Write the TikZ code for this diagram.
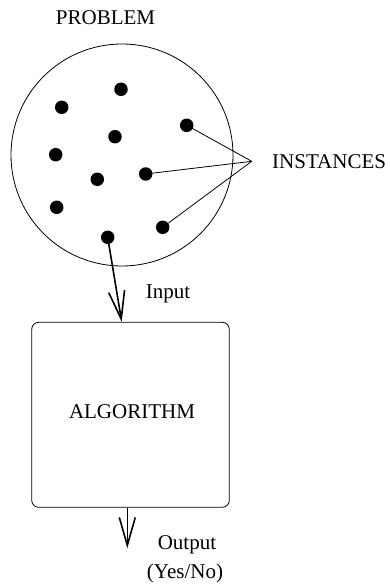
\documentclass[tikz,border=0pt]{standalone}
\usepackage{fontspec}
\setmainfont{Liberation Serif}
\usetikzlibrary{arrows.meta}
\begin{document}
\begin{tikzpicture}[x=1pt,y=-1pt,
  inst/.style={circle,fill=black,inner sep=0pt,minimum size=13.5pt},
  lbl/.style={font=\fontsize{21}{25}\selectfont,inner sep=0pt,anchor=base},
  link/.style={line width=0.8pt},
  flow/.style={line width=1.6pt,-{Straight Barb[length=28pt,width=16pt,line width=1.6pt]}}]
\useasboundingbox (0,0) rectangle (390,585);

% the problem and its instances
\node[circle,draw,line width=0.8pt,minimum size=222pt,inner sep=0pt] (prob) at (122,155) {};
\node[lbl] (probtxt) at (105.5,25) {PROBLEM};
\node[inst] (d1) at (121,89.3) {};
\node[inst] (d2) at (61.7,107.3) {};
\node[inst] (d3) at (186.7,125.3) {};
\node[inst] (d4) at (115,136.7) {};
\node[inst] (d5) at (55.7,154.7) {};
\node[inst] (d6) at (97.3,179.3) {};
\node[inst] (d7) at (145.7,174) {};
\node[inst] (d8) at (56.7,207.3) {};
\node[inst] (d9) at (162.7,227.3) {};
\node[inst] (d10) at (107.7,237.3) {};

% label pointing at some instances
\coordinate (meet) at (251.7,161.3);
\node[lbl,anchor=base west] (insttxt) at (272,168.3) {INSTANCES};
\draw[link] (d3.center) -- (meet);
\draw[link] (d7.center) -- (meet);
\draw[link] (d9.center) -- (meet);

% the algorithm box
\node[draw,line width=0.8pt,rounded corners=7pt,minimum width=197.6pt,minimum height=185pt,inner sep=0pt] (alg) at (130.5,414.8) {};
\node[lbl] (algtxt) at (132,418.3) {ALGORITHM};

% input and output
\draw[flow] (d10.center) -- ([xshift=-8.8pt]alg.north);
\node[lbl] (intxt) at (168,298.3) {Input};
\coordinate (outEnd) at (127.3,548.3);
\draw[flow] (alg.south -| outEnd) -- (outEnd);
\node[lbl] (outtxt) at (187,549.3) {Output};
\node[lbl] (yntxt) at (185,578.3) {(Yes/No)};
\end{tikzpicture}
\end{document}
